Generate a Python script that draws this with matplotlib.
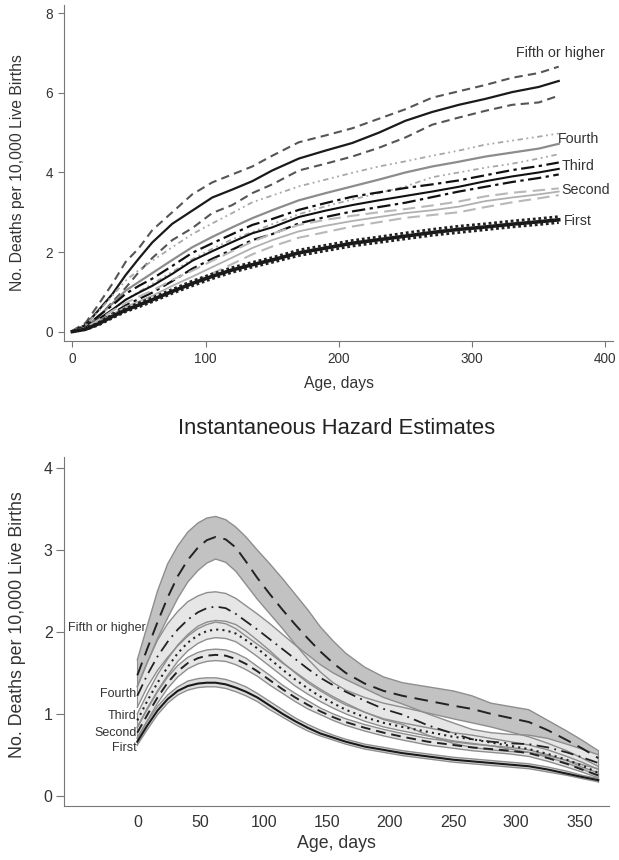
import numpy as np
import matplotlib
matplotlib.use("Agg")
import matplotlib.pyplot as plt

plt.rcParams['font.family'] = ['Liberation Sans', 'DejaVu Sans']

# ---- top panel: cumulative deaths (Kaplan-Meier style) ----
cum_days = [0, 10, 20, 30, 40, 50, 60, 75, 90, 105, 120, 135, 150, 170, 190,
            210, 230, 250, 270, 290, 310, 330, 350, 365]

cum_fifth = [0, 0.17, 0.55, 0.94, 1.42, 1.84, 2.24, 2.71, 3.04, 3.37, 3.57, 3.78,
             4.05, 4.35, 4.55, 4.74, 5.00, 5.30, 5.52, 5.70, 5.85, 6.02, 6.15, 6.30]
cum_fifth_hi = [0.02, 0.22, 0.70, 1.20, 1.75, 2.10, 2.55, 3.00, 3.45, 3.75, 3.95, 4.15,
                4.42, 4.76, 4.93, 5.11, 5.35, 5.59, 5.88, 6.04, 6.20, 6.38, 6.50, 6.66]
cum_fifth_lo = [0, 0.10, 0.38, 0.74, 1.10, 1.50, 1.85, 2.30, 2.60, 2.98, 3.18, 3.48,
                3.70, 4.05, 4.22, 4.40, 4.62, 4.88, 5.20, 5.38, 5.55, 5.70, 5.76, 5.93]

cum_fourth = [0, 0.12, 0.40, 0.70, 1.03, 1.25, 1.47, 1.80, 2.12, 2.38, 2.62, 2.85,
              3.05, 3.30, 3.48, 3.65, 3.82, 4.00, 4.15, 4.27, 4.40, 4.50, 4.60, 4.72]
cum_fourth_hi = [0.01, 0.17, 0.52, 0.90, 1.28, 1.55, 1.78, 2.12, 2.45, 2.72, 2.98, 3.25,
                 3.42, 3.65, 3.82, 3.99, 4.15, 4.28, 4.42, 4.55, 4.70, 4.80, 4.90, 4.98]
cum_fourth_lo = [0, 0.08, 0.30, 0.52, 0.80, 1.00, 1.20, 1.50, 1.82, 2.08, 2.32, 2.50,
                 2.70, 2.95, 3.15, 3.32, 3.48, 3.65, 3.88, 4.00, 4.12, 4.22, 4.35, 4.46]

cum_third = [0, 0.10, 0.32, 0.55, 0.80, 0.98, 1.15, 1.45, 1.78, 2.02, 2.25, 2.47,
             2.62, 2.88, 3.04, 3.18, 3.30, 3.41, 3.52, 3.64, 3.78, 3.90, 4.00, 4.09]
cum_third_hi = [0, 0.13, 0.40, 0.66, 0.95, 1.15, 1.33, 1.65, 1.98, 2.22, 2.45, 2.68,
                2.83, 3.06, 3.23, 3.39, 3.50, 3.61, 3.70, 3.80, 3.93, 4.06, 4.16, 4.25]
cum_third_lo = [0, 0.07, 0.25, 0.45, 0.66, 0.82, 0.98, 1.27, 1.58, 1.83, 2.06, 2.30,
                2.45, 2.72, 2.88, 3.02, 3.13, 3.24, 3.38, 3.52, 3.64, 3.76, 3.86, 3.95]

cum_second = [0, 0.08, 0.25, 0.43, 0.62, 0.76, 0.90, 1.15, 1.38, 1.62, 1.86, 2.10,
              2.30, 2.52, 2.66, 2.78, 2.88, 2.98, 3.05, 3.14, 3.28, 3.37, 3.45, 3.52]
cum_second_hi = [0, 0.10, 0.30, 0.52, 0.72, 0.88, 1.03, 1.30, 1.53, 1.78, 2.02, 2.26,
                 2.46, 2.68, 2.81, 2.91, 3.00, 3.08, 3.17, 3.27, 3.40, 3.49, 3.55, 3.60]
cum_second_lo = [0, 0.06, 0.20, 0.35, 0.52, 0.65, 0.78, 1.00, 1.22, 1.46, 1.70, 1.94,
                 2.14, 2.36, 2.50, 2.64, 2.75, 2.86, 2.93, 3.00, 3.13, 3.25, 3.35, 3.43]

cum_first = [0, 0.06, 0.20, 0.38, 0.54, 0.67, 0.80, 1.01, 1.21, 1.39, 1.55, 1.68,
             1.80, 1.98, 2.10, 2.22, 2.31, 2.40, 2.49, 2.57, 2.63, 2.70, 2.76, 2.81]
cum_first_hi = [0, 0.07, 0.23, 0.42, 0.58, 0.72, 0.85, 1.06, 1.27, 1.45, 1.61, 1.74,
                1.86, 2.05, 2.17, 2.29, 2.38, 2.48, 2.57, 2.65, 2.71, 2.78, 2.84, 2.89]
cum_first_lo = [0, 0.05, 0.17, 0.34, 0.50, 0.62, 0.75, 0.96, 1.15, 1.33, 1.49, 1.62,
                1.74, 1.91, 2.03, 2.15, 2.24, 2.33, 2.42, 2.49, 2.56, 2.63, 2.69, 2.74]

# ---- bottom panel: instantaneous hazard ----
haz_days = [0, 8, 16, 24, 32, 40, 48, 55, 62, 70, 78, 86, 95, 105, 115, 125, 135,
            145, 155, 165, 180, 195, 210, 230, 250, 265, 280, 295, 310, 325, 340, 352, 365]

haz_fifth = [1.47, 1.80, 2.12, 2.42, 2.68, 2.88, 3.03, 3.12, 3.16, 3.13, 3.03, 2.86,
             2.66, 2.46, 2.27, 2.09, 1.92, 1.76, 1.62, 1.50, 1.37, 1.28, 1.22, 1.16,
             1.10, 1.06, 1.00, 0.95, 0.90, 0.80, 0.68, 0.58, 0.46]
haz_fifth_hi = [1.66, 2.08, 2.50, 2.83, 3.05, 3.22, 3.33, 3.39, 3.41, 3.37, 3.28, 3.16,
                3.00, 2.83, 2.65, 2.46, 2.27, 2.06, 1.89, 1.74, 1.57, 1.45, 1.38, 1.33,
                1.28, 1.22, 1.13, 1.09, 1.05, 0.92, 0.79, 0.68, 0.55]
haz_fifth_lo = [1.33, 1.63, 1.92, 2.17, 2.41, 2.61, 2.75, 2.84, 2.89, 2.85, 2.74, 2.58,
                2.40, 2.22, 2.04, 1.85, 1.67, 1.51, 1.38, 1.29, 1.20, 1.13, 1.08, 1.01,
                0.94, 0.89, 0.84, 0.78, 0.72, 0.64, 0.55, 0.46, 0.36]

haz_fourth = [1.22, 1.48, 1.70, 1.88, 2.03, 2.15, 2.24, 2.29, 2.31, 2.29, 2.22, 2.13,
              2.03, 1.91, 1.79, 1.67, 1.55, 1.44, 1.35, 1.27, 1.16, 1.06, 0.99, 0.86,
              0.76, 0.69, 0.66, 0.64, 0.63, 0.59, 0.53, 0.47, 0.40]
haz_fourth_hi = [1.34, 1.63, 1.90, 2.10, 2.25, 2.37, 2.44, 2.48, 2.49, 2.47, 2.41, 2.32,
                 2.22, 2.10, 1.97, 1.84, 1.72, 1.60, 1.50, 1.42, 1.31, 1.20, 1.12, 1.00,
                 0.89, 0.81, 0.77, 0.75, 0.74, 0.70, 0.63, 0.57, 0.50]
haz_fourth_lo = [1.08, 1.33, 1.53, 1.69, 1.83, 1.95, 2.04, 2.09, 2.12, 2.10, 2.04, 1.95,
                 1.85, 1.74, 1.62, 1.51, 1.40, 1.30, 1.21, 1.13, 1.02, 0.93, 0.87, 0.74,
                 0.64, 0.59, 0.56, 0.54, 0.53, 0.49, 0.43, 0.38, 0.33]

haz_third = [0.92, 1.16, 1.38, 1.57, 1.74, 1.87, 1.96, 2.01, 2.03, 2.02, 1.98, 1.90,
             1.80, 1.67, 1.54, 1.42, 1.31, 1.21, 1.13, 1.05, 0.96, 0.89, 0.84, 0.78,
             0.72, 0.69, 0.65, 0.61, 0.57, 0.51, 0.44, 0.37, 0.28]
haz_third_hi = [1.00, 1.25, 1.48, 1.67, 1.84, 1.97, 2.07, 2.12, 2.14, 2.13, 2.09, 2.01,
                1.90, 1.77, 1.63, 1.50, 1.38, 1.28, 1.19, 1.11, 1.02, 0.94, 0.89, 0.83,
                0.77, 0.74, 0.70, 0.66, 0.62, 0.56, 0.48, 0.41, 0.32]
haz_third_lo = [0.84, 1.07, 1.28, 1.47, 1.64, 1.77, 1.86, 1.91, 1.93, 1.92, 1.88, 1.80,
                1.70, 1.58, 1.46, 1.34, 1.24, 1.15, 1.07, 1.00, 0.91, 0.84, 0.79, 0.73,
                0.67, 0.64, 0.61, 0.57, 0.53, 0.47, 0.40, 0.33, 0.24]

haz_second = [0.77, 0.99, 1.20, 1.38, 1.52, 1.62, 1.68, 1.71, 1.72, 1.71, 1.67, 1.61,
              1.52, 1.41, 1.30, 1.20, 1.11, 1.03, 0.96, 0.90, 0.83, 0.77, 0.72, 0.66,
              0.62, 0.59, 0.57, 0.55, 0.52, 0.46, 0.39, 0.32, 0.25]
haz_second_hi = [0.83, 1.06, 1.27, 1.45, 1.59, 1.69, 1.75, 1.78, 1.79, 1.78, 1.74, 1.68,
                 1.58, 1.47, 1.35, 1.25, 1.16, 1.07, 1.00, 0.94, 0.87, 0.81, 0.76, 0.70,
                 0.66, 0.63, 0.61, 0.59, 0.56, 0.50, 0.43, 0.35, 0.28]
haz_second_lo = [0.71, 0.92, 1.13, 1.31, 1.45, 1.55, 1.61, 1.64, 1.65, 1.64, 1.60, 1.54,
                 1.46, 1.35, 1.25, 1.15, 1.06, 0.99, 0.92, 0.86, 0.79, 0.73, 0.68, 0.62,
                 0.58, 0.55, 0.53, 0.51, 0.48, 0.42, 0.35, 0.29, 0.22]

haz_first = [0.66, 0.86, 1.04, 1.18, 1.28, 1.34, 1.37, 1.38, 1.38, 1.36, 1.32, 1.27,
             1.20, 1.10, 1.00, 0.91, 0.83, 0.76, 0.71, 0.66, 0.60, 0.56, 0.52, 0.48,
             0.44, 0.42, 0.40, 0.38, 0.36, 0.32, 0.27, 0.23, 0.19]
haz_first_hi = [0.70, 0.91, 1.09, 1.23, 1.33, 1.40, 1.43, 1.44, 1.44, 1.42, 1.38, 1.33,
                1.25, 1.15, 1.05, 0.95, 0.87, 0.80, 0.74, 0.69, 0.63, 0.59, 0.55, 0.51,
                0.47, 0.45, 0.43, 0.41, 0.39, 0.35, 0.30, 0.25, 0.21]
haz_first_lo = [0.62, 0.81, 0.99, 1.13, 1.23, 1.29, 1.32, 1.33, 1.33, 1.31, 1.27, 1.22,
                1.15, 1.05, 0.96, 0.87, 0.79, 0.73, 0.68, 0.63, 0.57, 0.53, 0.49, 0.45,
                0.41, 0.39, 0.37, 0.35, 0.33, 0.29, 0.25, 0.21, 0.17]

group_names = ["Fifth or higher", "Fourth", "Third", "Second", "First"]

fig = plt.figure(figsize=(6.19, 8.6), dpi=100)
spine_col = "#777777"
text_col = "#333333"

# ================= top panel =================
ax1 = fig.add_axes([0.1039, 0.6038, 0.887, 0.3904])

# fifth
ax1.plot(cum_days, cum_fifth_hi, color="#555555", lw=1.5, ls=(0, (4, 2.5)))
ax1.plot(cum_days, cum_fifth_lo, color="#555555", lw=1.5, ls=(0, (4, 2.5)))
ax1.plot(cum_days, cum_fifth, color="#1a1a1a", lw=1.6)
# fourth
ax1.plot(cum_days, cum_fourth_hi, color="#a8a8a8", lw=1.3, ls=(0, (3, 2, 1, 2, 1, 2)))
ax1.plot(cum_days, cum_fourth_lo, color="#a8a8a8", lw=1.3, ls=(0, (3, 2, 1, 2, 1, 2)))
ax1.plot(cum_days, cum_fourth, color="#8c8c8c", lw=1.6)
# third
ax1.plot(cum_days, cum_third_hi, color="#111111", lw=1.6, ls=(0, (6, 2, 1.5, 2)))
ax1.plot(cum_days, cum_third_lo, color="#111111", lw=1.6, ls=(0, (6, 2, 1.5, 2)))
ax1.plot(cum_days, cum_third, color="#111111", lw=1.5)
# second
ax1.plot(cum_days, cum_second_hi, color="#b8b8b8", lw=1.5, ls=(0, (6, 3)))
ax1.plot(cum_days, cum_second_lo, color="#b8b8b8", lw=1.5, ls=(0, (6, 3)))
ax1.plot(cum_days, cum_second, color="#b0b0b0", lw=1.3)
# first
ax1.plot(cum_days, cum_first_hi, color="#222222", lw=2.0, ls=(0, (1, 1)))
ax1.plot(cum_days, cum_first_lo, color="#222222", lw=2.0, ls=(0, (1, 1)))
ax1.plot(cum_days, cum_first, color="#1a1a1a", lw=2.6)

ax1.text(333, 7.0, group_names[0], fontsize=10.3, color=text_col, va="center", ha="left")
ax1.text(364, 4.83, group_names[1], fontsize=10.3, color=text_col, va="center", ha="left")
ax1.text(367, 4.15, group_names[2], fontsize=10.3, color=text_col, va="center", ha="left")
ax1.text(367, 3.56, group_names[3], fontsize=10.3, color=text_col, va="center", ha="left")
ax1.text(369, 2.78, group_names[4], fontsize=10.3, color=text_col, va="center", ha="left")

ax1.set_xlim(-6, 406)
ax1.set_ylim(-0.23, 8.21)
ax1.set_xticks([0, 100, 200, 300, 400])
ax1.set_yticks([0, 2, 4, 6, 8])
ax1.tick_params(labelsize=9.8, colors=spine_col, labelcolor=text_col, length=4, pad=4)
for s in ["top", "right"]:
    ax1.spines[s].set_visible(False)
for s in ["left", "bottom"]:
    ax1.spines[s].set_color(spine_col)
ax1.set_xlabel("Age, days", fontsize=11.3, color=text_col)
ax1.set_ylabel("No. Deaths per 10,000 Live Births", fontsize=11.3, color=text_col)
ax1.xaxis.set_label_coords(0.5, -0.105)
ax1.yaxis.set_label_coords(-0.072, 0.5)

# ================= bottom panel =================
ax2 = fig.add_axes([0.1039, 0.0631, 0.8804, 0.4059])

band_edge = "#8e8e8e"
bands = [
    (haz_fifth_lo, haz_fifth_hi, "#c2c2c2"),
    (haz_fourth_lo, haz_fourth_hi, "#e6e6e6"),
    (haz_third_lo, haz_third_hi, "#e8e8e8"),
    (haz_second_lo, haz_second_hi, "#e6e6e6"),
    (haz_first_lo, haz_first_hi, "#dedede"),
]
for lo, hi, fc in bands:
    ax2.fill_between(haz_days, lo, hi, facecolor=fc, edgecolor="none")
    ax2.plot(haz_days, lo, color=band_edge, lw=1.0)
    ax2.plot(haz_days, hi, color=band_edge, lw=1.0)
    ax2.plot([haz_days[0]] * 2, [lo[0], hi[0]], color=band_edge, lw=0.8)
    ax2.plot([haz_days[-1]] * 2, [lo[-1], hi[-1]], color=band_edge, lw=0.8)

ax2.plot(haz_days, haz_fifth, color="#222222", lw=1.4, ls=(0, (7, 4)))
ax2.plot(haz_days, haz_fourth, color="#222222", lw=1.3, ls=(0, (7, 3, 1, 3)))
ax2.plot(haz_days, haz_third, color="#222222", lw=1.5, ls=(0, (1, 2)))
ax2.plot(haz_days, haz_second, color="#222222", lw=1.4, ls=(0, (5, 3)))
ax2.plot(haz_days, haz_first, color="#1a1a1a", lw=1.5)

ax2.text(7, 2.05, group_names[0], fontsize=9, color=text_col, va="center", ha="right")
ax2.text(-0.5, 1.24, group_names[1], fontsize=9, color=text_col, va="center", ha="right")
ax2.text(-0.5, 0.97, group_names[2], fontsize=9, color=text_col, va="center", ha="right")
ax2.text(-0.5, 0.77, group_names[3], fontsize=9, color=text_col, va="center", ha="right")
ax2.text(-0.5, 0.58, group_names[4], fontsize=9, color=text_col, va="center", ha="right")

ax2.set_xlim(-57.8, 373.7)
ax2.set_ylim(-0.122, 4.14)
ax2.set_xticks([0, 50, 100, 150, 200, 250, 300, 350])
ax2.set_yticks([0, 1, 2, 3, 4])
ax2.tick_params(axis="x", length=0, pad=7)
ax2.tick_params(axis="y", length=5.5, pad=3)
ax2.tick_params(labelsize=11.5, colors=spine_col, labelcolor=text_col)
for s in ["top", "right"]:
    ax2.spines[s].set_visible(False)
for s in ["left", "bottom"]:
    ax2.spines[s].set_color(spine_col)
ax2.set_xlabel("Age, days", fontsize=12.8, color=text_col)
ax2.set_ylabel("No. Deaths per 10,000 Live Births", fontsize=12.8, color=text_col)
ax2.xaxis.set_label_coords(0.5, -0.085)
ax2.yaxis.set_label_coords(-0.07, 0.52)

fig.text(336.8 / 619, 1 - 429 / 860, "Instantaneous Hazard Estimates",
         fontsize=15.8, color="#222222", ha="center", va="center")

fig.savefig("out.png", dpi=100)
